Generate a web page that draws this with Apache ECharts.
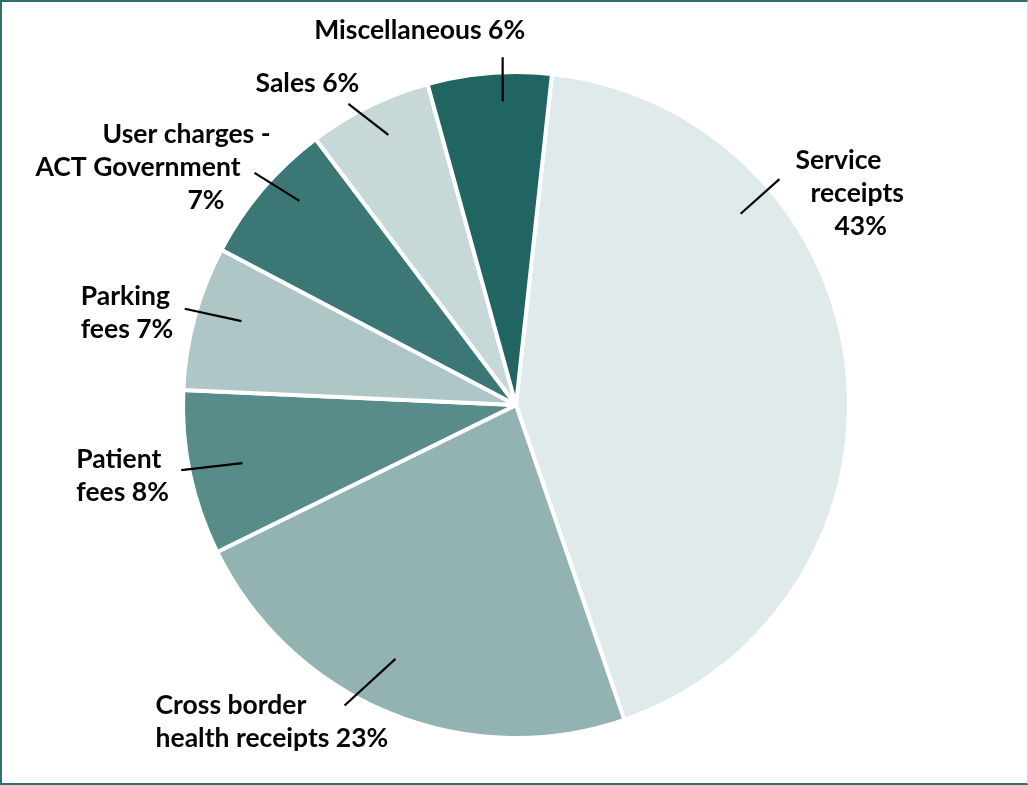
<!DOCTYPE html>
<html>
<head>
<meta charset="utf-8">
<script src="https://cdn.jsdelivr.net/npm/echarts@6/dist/echarts.min.js"></script>
<style>
  html, body { margin: 0; padding: 0; background: #ffffff; }
  #chart { position: absolute; left: 0; top: 0; width: 1028px; height: 785px; }
  #frame {
    position: absolute; left: 0; top: 0; width: 1028px; height: 785px;
    box-sizing: border-box; pointer-events: none;
    border-left: 2px solid #2f6f6d; border-top: 2px solid #2f6f6d;
    border-bottom: 2px solid #2f6f6d; border-right: 1px solid #cfd6d6;
  }
</style>
</head>
<body>
<div id="chart"></div>
<div id="frame"></div>
<script>
// Revenue sources, share of total (%)
const categories = [
  'Service receipts',
  'Cross border health receipts',
  'Patient fees',
  'Parking fees',
  'User charges - ACT Government',
  'Sales',
  'Miscellaneous'
];
const shares = [43, 23, 8, 7, 7, 6, 6];

// Label text broken into lines; {v} is replaced by the slice value
const labelRows = [
  ['Service', 'receipts', '{v}%'],
  ['Cross border', 'health receipts {v}%'],
  ['Patient', 'fees {v}%'],
  ['Parking', 'fees {v}%'],
  ['User charges -', 'ACT Government', '{v}%'],
  ['Sales {v}%'],
  ['Miscellaneous {v}%']
];

const sliceColors = ['#e0eaea', '#93b3b2', '#588c8a', '#aec6c5', '#3b7775', '#c6d8d7', '#206562'];

// Pie geometry (pixels)
const CX = 516, CY = 405, R = 333;
const START_CW = 6.2;                 // first slice starts this many degrees clockwise from 12 o'clock

// Leader line per slice: [inner angle offset from slice middle (deg), inner radius factor,
//                         outer angle offset (deg), outer radius factor]
const leaderSpec = [
  [-34.0, 0.886, -34.2, 1.042],
  [3.0, 0.844, 7.3, 1.039],
  [-0.2, 0.840, 0.8, 1.024],
  [1.8, 0.862, 1.0, 1.036],
  [2.9, 0.894, 1.2, 1.050],
  [0.9, 0.897, -2.9, 1.035],
  [2.1, 0.913, 2.4, 1.045]
];
// Label anchor relative to the outer end of the leader line, and alignment
const labelOffset = [[16, 14], [-189, 16], [-105, 6], [-104, 4], [16, -5], [-41, -20], [-83, -27]];
const labelAlign = ['left', 'left', 'left', 'left', 'right', 'center', 'center'];
// Per-line indents inside multi-line labels
const lineIndent = [[0, 15, 39], [0, 0], [0, 0], [0, 0], [0, 30, 46], [0], [0]];

const total = shares.reduce((a, b) => a + b, 0);
function midAngle(i) {
  let cum = 0;
  for (let k = 0; k < i; k++) cum += shares[k];
  return START_CW + 360 * (cum + shares[i] / 2) / total;
}
function polarPoint(deg, r) {
  const a = deg * Math.PI / 180;
  return [CX + r * Math.sin(a), CY - r * Math.cos(a)];
}

const FONT = 26.5;
const TEXT_COLOR = '#050505';
const baseText = { fontFamily: 'Lato', fontWeight: 'bold', fontSize: FONT, lineHeight: 33, color: TEXT_COLOR };

// Slices
const sliceData = categories.map((name, i) => ({
  name: name,
  value: shares[i],
  itemStyle: { color: sliceColors[i] }
}));

// Same values again, drawn on top, carrying only labels and leader lines
const labelData = categories.map((name, i) => {
  const rich = {};
  lineIndent[i].forEach((ind, j) => {
    const pad = labelAlign[i] === 'right' ? [0, ind, 0, 0] : [0, 0, 0, ind];
    rich['r' + j] = Object.assign({ padding: pad }, baseText);
  });
  return { name: name, value: shares[i], label: { rich: rich } };
});

const chart = echarts.init(document.getElementById('chart'), null, { renderer: 'canvas' });
chart.setOption({
  backgroundColor: '#ffffff',
  animation: false,
  series: [{
    type: 'pie',
    z: 2,
    center: [CX, CY],
    radius: R,
    startAngle: 90 - START_CW,
    clockwise: true,
    data: sliceData,
    itemStyle: { borderColor: '#ffffff', borderWidth: 4 },
    emphasis: { disabled: true },
    label: { show: false },
    labelLine: { show: false },
    silent: true
  }, {
    type: 'pie',
    z: 5,
    center: [CX, CY],
    radius: R,
    startAngle: 90 - START_CW,
    clockwise: true,
    avoidLabelOverlap: false,
    silent: true,
    data: labelData,
    itemStyle: { color: 'rgba(0,0,0,0)', borderWidth: 0 },
    emphasis: { disabled: true },
    label: {
      show: true,
      position: 'outside',
      overflow: 'none',
      opacity: 1,
      fontFamily: 'Lato',
      fontWeight: 'bold',
      fontSize: FONT,
      lineHeight: 33,
      color: TEXT_COLOR,
      formatter: function (p) {
        return labelRows[p.dataIndex]
          .map((row, j) => '{r' + j + '|' + row.replace('{v}', p.value) + '}')
          .join('\n');
      }
    },
    labelLine: {
      show: true,
      length: 20,
      length2: 0,
      smooth: false,
      lineStyle: { color: '#000000', width: 2.2, opacity: 1 }
    },
    labelLayout: function (p) {
      const i = p.dataIndex;
      const s = leaderSpec[i];
      const m = midAngle(i);
      const inner = polarPoint(m + s[0], R * s[1]);
      const outer = polarPoint(m + s[2], R * s[3]);
      return {
        x: outer[0] + labelOffset[i][0],
        y: outer[1] + labelOffset[i][1],
        align: labelAlign[i],
        verticalAlign: 'middle',
        labelLinePoints: [inner, outer]
      };
    }
  }]
});
</script>
</body>
</html>
